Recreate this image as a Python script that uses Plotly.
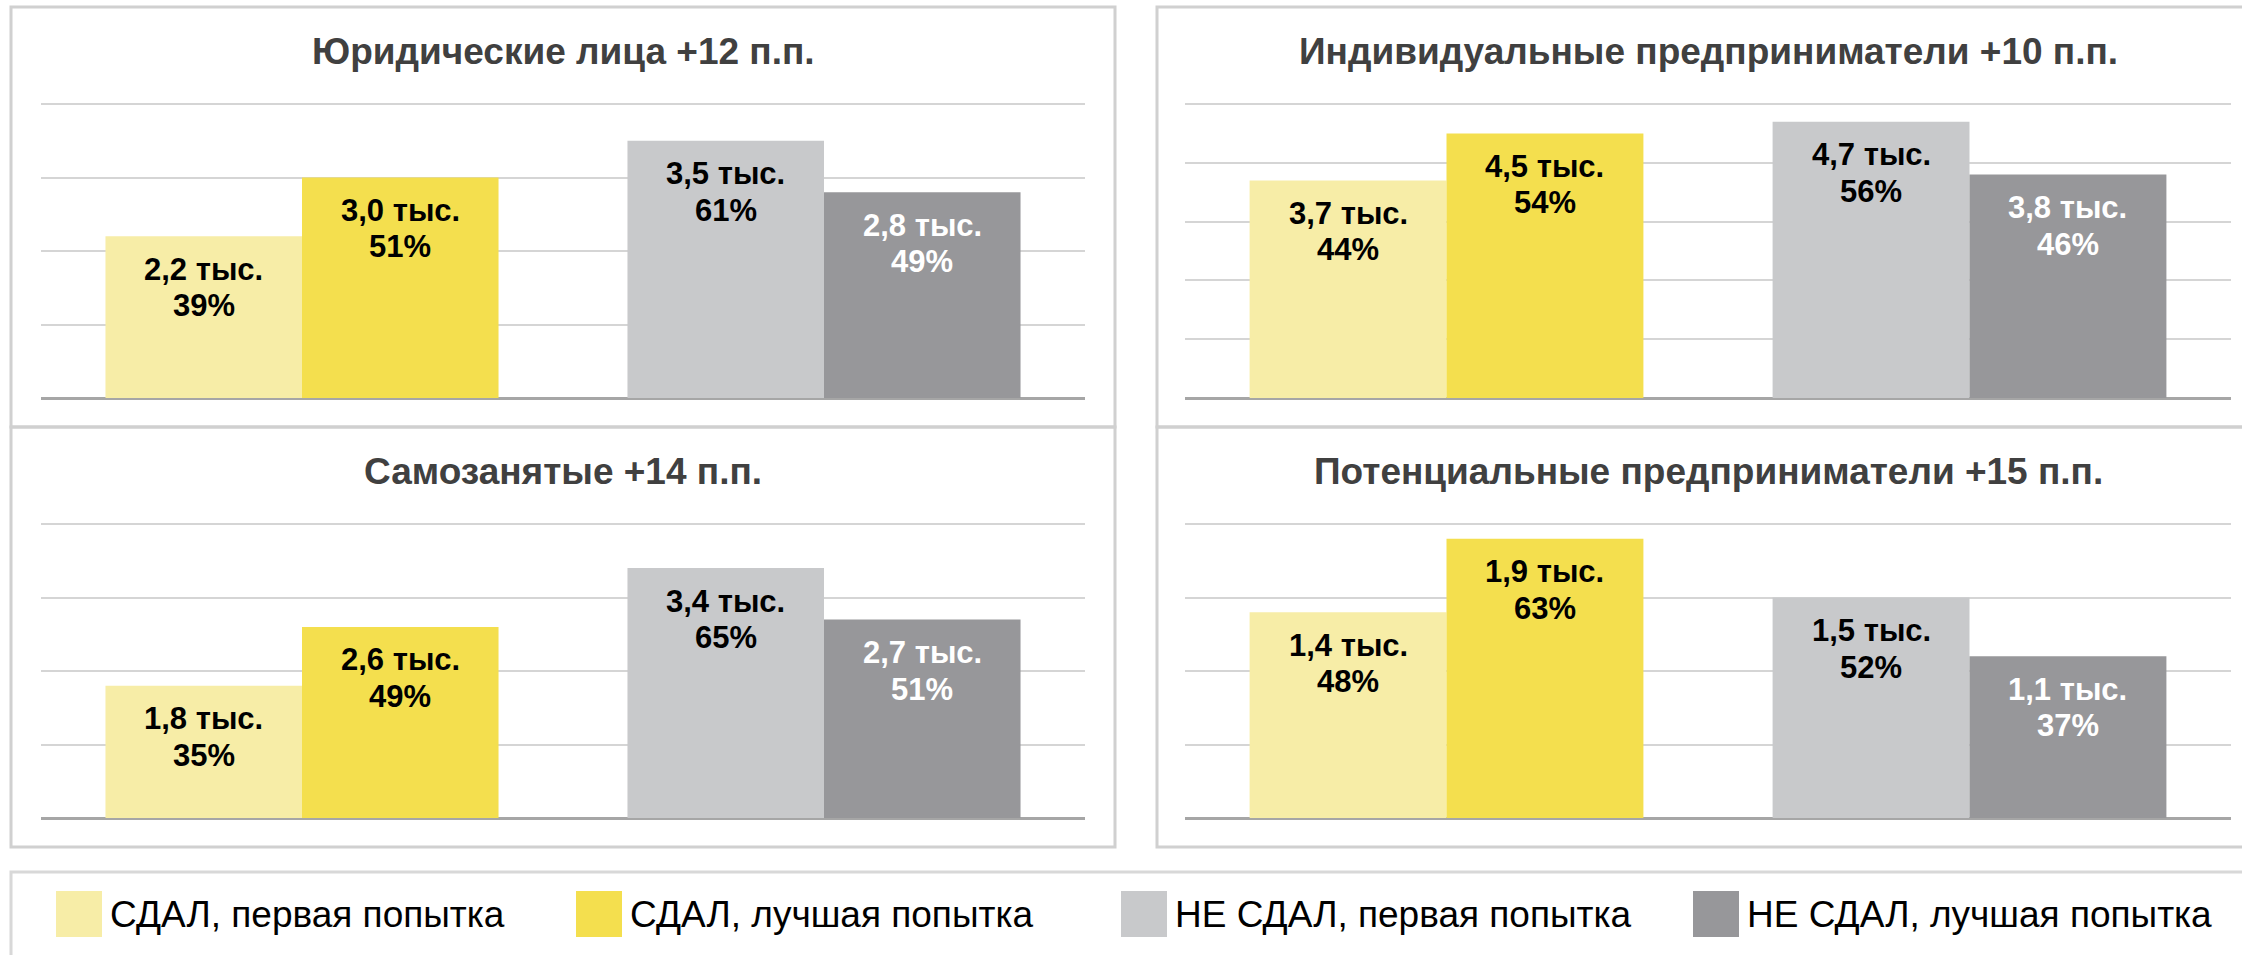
import plotly.graph_objects as go

W, H = 2242, 955

panel_titles = [
    "Юридические лица +12 п.п.",
    "Индивидуальные предприниматели +10 п.п.",
    "Самозанятые +14 п.п.",
    "Потенциальные предприниматели +15 п.п.",
]
series_names = [
    "СДАЛ, первая попытка",
    "СДАЛ, лучшая попытка",
    "НЕ СДАЛ, первая попытка",
    "НЕ СДАЛ, лучшая попытка",
]
# thousands of people, per panel, per series
counts = [
    [2.2, 3.0, 3.5, 2.8],
    [3.7, 4.5, 4.7, 3.8],
    [1.8, 2.6, 3.4, 2.7],
    [1.4, 1.9, 1.5, 1.1],
]
percents = [
    [39, 51, 61, 49],
    [44, 54, 56, 46],
    [35, 49, 65, 51],
    [48, 63, 52, 37],
]
y_max = [4, 5, 4, 2]
y_step = [1, 1, 1, 0.5]

series_category = [0, 0, 1, 1]   # СДАЛ / НЕ СДАЛ group
series_side = [-1, 0, -1, 0]     # left / right bar within group
colors = ["#F7EDA7", "#F4DF4E", "#C8C9CB", "#97979A"]
label_colors = ["#000000", "#000000", "#000000", "#FFFFFF"]

FONT = "Arial, Liberation Sans, sans-serif"

# layout geometry (pixels)
plot_x = [(41, 1085), (1185, 2231), (41, 1085), (1185, 2231)]
plot_y = [(104, 398), (104, 398), (524, 818), (524, 818)]   # top gridline, baseline
boxes = [(11, 7, 1115, 427), (1157, 7, 2260, 427), (11, 427, 1115, 847), (1157, 427, 2260, 847)]
title_y = [51, 51, 471, 471]
EPS = 0.02

def px_x(p):
    return p / W

def px_y(p):
    return 1 - p / H

bar_w = 0.3765

fig = go.Figure()
shapes = []
annotations = []

for i in range(4):
    sfx = "" if i == 0 else str(i + 1)
    xa, ya = "x" + sfx, "y" + sfx
    for s in range(4):
        fig.add_trace(go.Bar(
            x=[series_category[s]],
            y=[counts[i][s]],
            width=[bar_w],
            offset=[series_side[s] * bar_w],
            marker=dict(color=colors[s], line=dict(width=0)),
            name=series_names[s],
            showlegend=False,
            xaxis=xa, yaxis=ya,
            hoverinfo="skip",
        ))
        cx = series_category[s] + series_side[s] * bar_w + bar_w / 2
        line1 = f"{counts[i][s]:.1f}".replace(".", ",") + " тыс."
        line2 = f"{percents[i][s]}%"
        for k, t in enumerate([line1, line2]):
            annotations.append(dict(
                x=cx, y=counts[i][s], xref=xa, yref=ya,
                text="<b>" + t + "</b>", showarrow=False,
                yanchor="middle", xanchor="center",
                yshift=-33 - 36.5 * k,
                font=dict(family=FONT, size=31, color=label_colors[s]),
            ))
    base, top = plot_y[i][1], plot_y[i][0]
    top_ext = base - (base - top) * (1 + EPS)
    fig.layout["xaxis" + sfx] = dict(
        domain=[px_x(plot_x[i][0]), px_x(plot_x[i][1])],
        range=[-0.5, 1.5], showticklabels=False, showgrid=False,
        zeroline=False, fixedrange=True, anchor=ya,
    )
    fig.layout["yaxis" + sfx] = dict(
        domain=[px_y(base), px_y(top_ext)],
        range=[0, y_max[i] * (1 + EPS)], tick0=0, dtick=y_step[i], showticklabels=False,
        showgrid=True, gridcolor="#D5D5D5", gridwidth=2,
        zeroline=True, zerolinecolor="#A6A6A6", zerolinewidth=3,
        fixedrange=True, anchor=xa,
    )
    bx0, by0, bx1, by1 = boxes[i]
    shapes.append(dict(type="rect", xref="paper", yref="paper",
                       x0=px_x(bx0), x1=px_x(bx1), y0=px_y(by1), y1=px_y(by0),
                       line=dict(color="#D0D0D0", width=3), layer="below"))
    annotations.append(dict(
        x=px_x((plot_x[i][0] + plot_x[i][1]) / 2), y=px_y(title_y[i]),
        xref="paper", yref="paper", text="<b>" + panel_titles[i] + "</b>",
        showarrow=False, xanchor="center", yanchor="middle",
        font=dict(family=FONT, size=37, color="#404040"),
    ))

# legend box
shapes.append(dict(type="rect", xref="paper", yref="paper",
                   x0=px_x(11), x1=px_x(2260), y0=px_y(980), y1=px_y(872),
                   line=dict(color="#D8D8D8", width=3), layer="below"))
legend_swatch_x = [56, 576, 1121, 1693]
for s in range(4):
    x0 = legend_swatch_x[s]
    shapes.append(dict(type="rect", xref="paper", yref="paper",
                       x0=px_x(x0), x1=px_x(x0 + 46), y0=px_y(937), y1=px_y(891),
                       fillcolor=colors[s], line=dict(width=0)))
    annotations.append(dict(
        x=px_x(x0 + 52), y=px_y(914), xref="paper", yref="paper",
        text=series_names[s], showarrow=False, xanchor="left", yanchor="middle",
        font=dict(family=FONT, size=37, color="#000000"),
    ))

fig.update_layout(
    width=W, height=H, margin=dict(l=0, r=0, t=0, b=0),
    paper_bgcolor="#FFFFFF", plot_bgcolor="rgba(0,0,0,0)",
    barmode="overlay", showlegend=False,
    shapes=shapes, annotations=annotations,
)

fig.write_html("out.html", config={"displayModeBar": False},
               post_script="document.body.style.margin='0';document.body.style.overflow='hidden';")
